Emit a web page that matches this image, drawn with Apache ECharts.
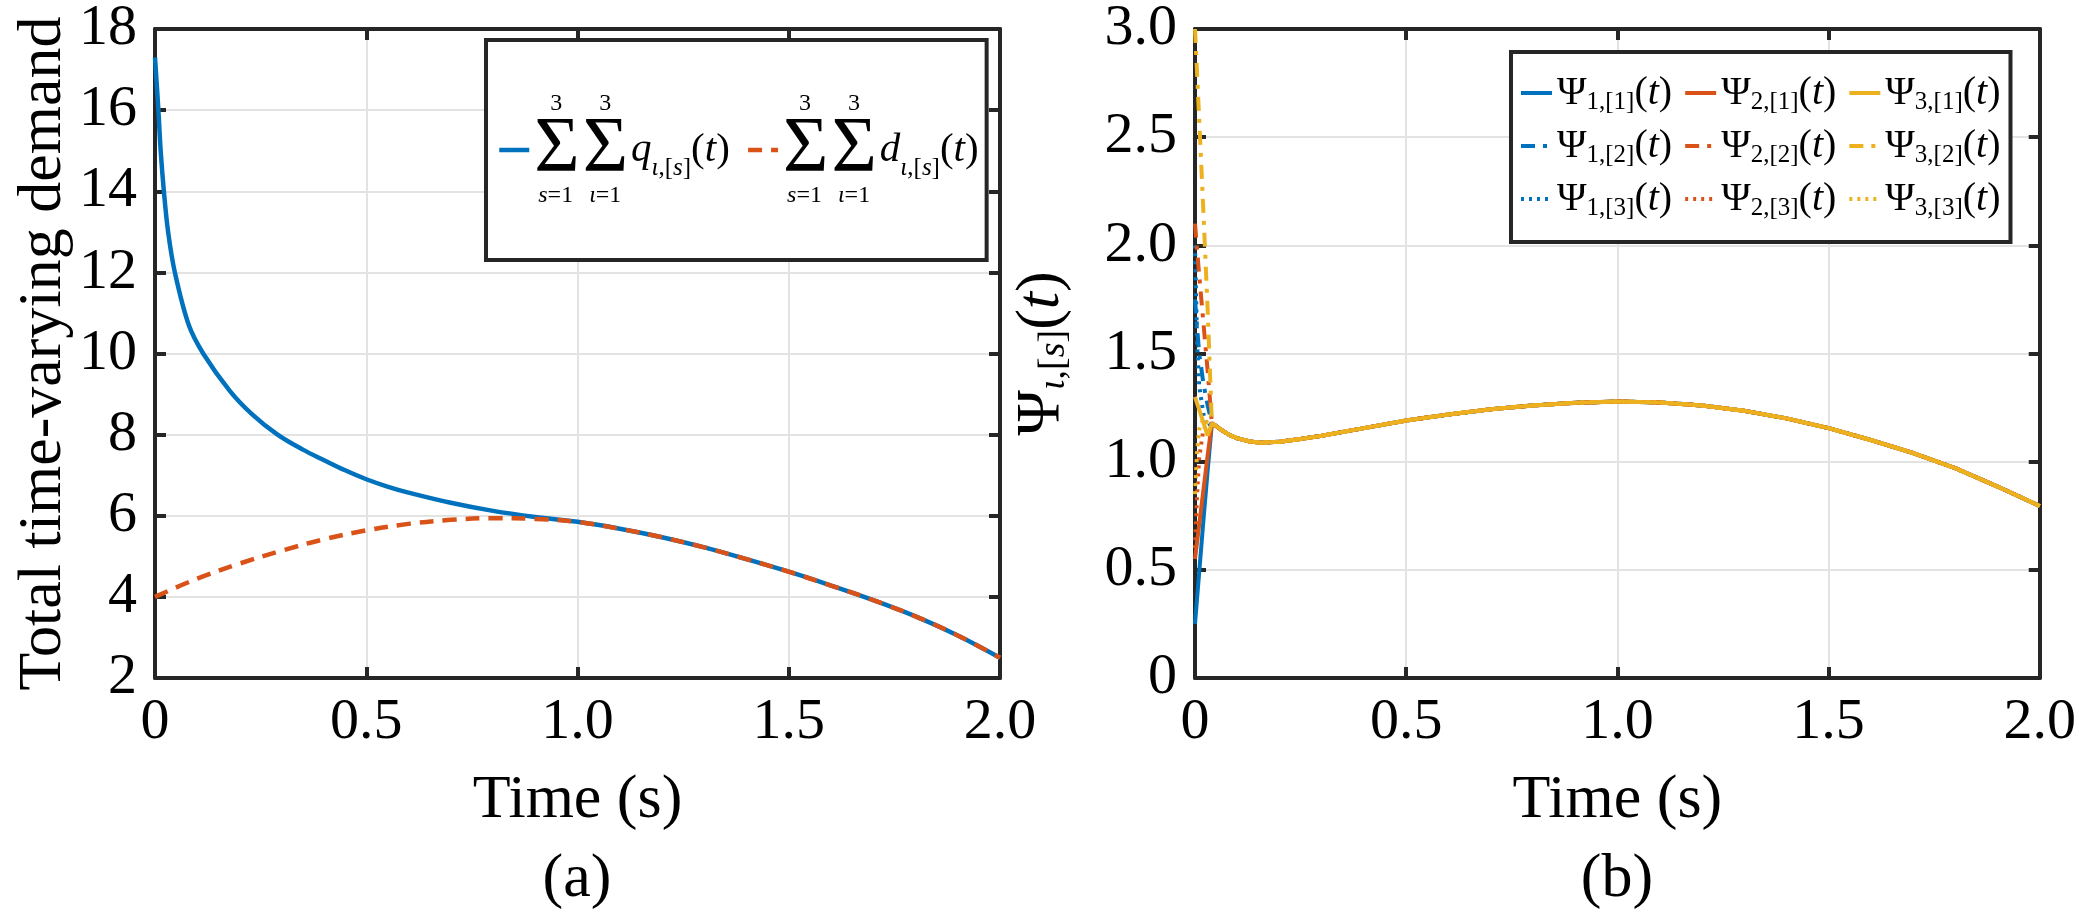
<!DOCTYPE html>
<html>
<head>
<meta charset="utf-8">
<title>Total time-varying demand and Psi</title>
<script src="https://cdn.jsdelivr.net/npm/echarts@6.0.0/dist/echarts.min.js"></script>
<style>
	html, body { margin: 0; padding: 0; background: #fff; }
	#chart { width: 2079px; height: 918px; }
</style>
</head>
<body>
<div id="chart"></div>
<script>
// ---- panel (a): total demand ----
var tA = [0, 0.008, 0.0134, 0.021, 0.031, 0.047, 0.08, 0.114, 0.177, 0.23, 0.29, 0.35, 0.4, 0.45, 0.5, 0.55, 0.6,
	0.7, 0.8, 0.9, 1.0, 1.1, 1.2, 1.3, 1.4, 1.5, 1.6, 1.7, 1.8, 1.9, 2.0];
var qSum = [17.3, 16.0, 15.0, 14.0, 13.0, 12.0, 10.7, 10.0, 9.08, 8.5, 8.0, 7.63, 7.37, 7.12, 6.9, 6.72, 6.57,
	6.32, 6.12, 5.97, 5.85, 5.68, 5.47, 5.22, 4.93, 4.62, 4.28, 3.92, 3.52, 3.05, 2.5];
var tD = [0, 0.1, 0.2, 0.3, 0.4, 0.5, 0.6, 0.7, 0.8, 0.9, 1.0, 1.1, 1.2, 1.3, 1.4, 1.5, 1.6, 1.7, 1.8, 1.9, 2.0];
var dSum = [4.0, 4.45, 4.82, 5.14, 5.42, 5.64, 5.80, 5.90, 5.94, 5.92, 5.85, 5.68, 5.47, 5.22, 4.93, 4.62, 4.28,
	3.92, 3.52, 3.05, 2.5];

// ---- panel (b): Psi_{i,[s]}(t) ----
var tEarly = [0, 0.005, 0.01, 0.02, 0.03];
var psi11Early = [0.25, 0.37, 0.49, 0.73, 0.96];
var psi21Early = [0.55, 0.63, 0.71, 0.87, 1.03];
var psi31Early = [1.30, 1.27, 1.24, 1.18, 1.12];
var psi12Early = [1.75, 1.62, 1.50, 1.36, 1.26];
var psi22Early = [2.10, 1.98, 1.86, 1.64, 1.42];
var psi32Early = [3.00, 2.79, 2.58, 2.15, 1.70];
var psi13Early = [2.00, 1.55, 1.35, 1.22, 1.16];
var psi23Early = [0.60, 0.85, 1.02, 1.15, 1.17];
var psi33Early = [0.85, 1.05, 1.15, 1.20, 1.18];
var tLate = [0.04, 0.05, 0.06, 0.08, 0.1, 0.13, 0.154, 0.2, 0.25, 0.3, 0.4, 0.5, 0.6, 0.7, 0.8, 0.9, 1.0,
	1.1, 1.2, 1.3, 1.4, 1.5, 1.6, 1.7, 1.8, 1.9, 2.0];
var psiLate = [1.177, 1.165, 1.15, 1.125, 1.108, 1.093, 1.088, 1.092, 1.105, 1.12, 1.155, 1.19, 1.218, 1.242,
	1.26, 1.272, 1.278, 1.274, 1.26, 1.235, 1.2, 1.155, 1.1, 1.04, 0.97, 0.885, 0.795];

var xTicks = ['0', '0.5', '1.0', '1.5', '2.0'];
var yTicksB = ['0', '0.5', '1.0', '1.5', '2.0', '2.5', '3.0'];

var BLUE = '#0072BD', ORANGE = '#D95319', YELLOW = '#EDB120';
var INK = '#262626';
var FONT = 'Liberation Serif';

function pairs(ts, vs) {
	return ts.map(function (t, i) { return [t, vs[i]]; });
}

var psiEarly = {
	'11': psi11Early, '21': psi21Early, '31': psi31Early,
	'12': psi12Early, '22': psi22Early, '32': psi32Early,
	'13': psi13Early, '23': psi23Early, '33': psi33Early
};
var colors = {'1': BLUE, '2': ORANGE, '3': YELLOW};
var dashes = {'1': 'solid', '2': [14, 8, 4, 8], '3': [3, 5]};

function rs(size, lh, extra) {
	return Object.assign({fontFamily: FONT, fontSize: size, color: '#000', lineHeight: lh, align: 'left'}, extra || {});
}

function tickLabel(margin, fmt) {
	return {
		margin: margin, color: '#000', fontFamily: FONT, fontSize: 58,
		formatter: function (v) { return fmt(v); }
	};
}

function mainX(grid) {
	return {
		type: 'value', gridIndex: grid, min: 0, max: 2, interval: 0.5,
		axisLine: {onZero: false, lineStyle: {color: INK, width: 4}},
		axisTick: {inside: true, length: 11, lineStyle: {color: INK, width: 4}},
		axisLabel: tickLabel(16, function (v) { return xTicks[Math.round(v / 0.5)]; }),
		splitLine: {show: true, lineStyle: {color: '#e3e3e3', width: 2}},
		name: 'Time (s)', nameLocation: 'middle', nameGap: 92,
		nameTextStyle: {color: '#000', fontFamily: FONT, fontSize: 62}
	};
}
function mirrorX(grid) {
	return {
		type: 'value', gridIndex: grid, position: 'top', min: 0, max: 2, interval: 0.5,
		axisLine: {onZero: false, lineStyle: {color: INK, width: 4}},
		axisTick: {inside: true, length: 11, lineStyle: {color: INK, width: 4}},
		axisLabel: {show: false}, splitLine: {show: false}
	};
}
function mirrorY(grid, min, max, step) {
	return {
		type: 'value', gridIndex: grid, position: 'right', min: min, max: max, interval: step,
		axisLine: {show: true, onZero: false, lineStyle: {color: INK, width: 4}},
		axisTick: {show: true, inside: true, length: 11, lineStyle: {color: INK, width: 4}},
		axisLabel: {show: false}, splitLine: {show: false}
	};
}

var series = [
	{
		name: 'q', type: 'line', xAxisIndex: 0, yAxisIndex: 0, data: pairs(tA, qSum),
		showSymbol: false, symbol: 'none', smooth: 0.35,
		lineStyle: {color: BLUE, width: 4.5}, itemStyle: {color: BLUE}
	},
	{
		name: 'd', type: 'line', xAxisIndex: 0, yAxisIndex: 0, data: pairs(tD, dSum),
		showSymbol: false, symbol: 'none', smooth: 0.35,
		lineStyle: {color: ORANGE, width: 4.5, type: [14, 9]}, itemStyle: {color: ORANGE}
	}
];

// draw order: i then s, so the yellow lines end up on top
['1', '2', '3'].forEach(function (i) {
	['1', '2', '3'].forEach(function (s) {
		var key = i + s;
		series.push({
			name: 'p' + key, type: 'line', xAxisIndex: 2, yAxisIndex: 2,
			data: pairs(tEarly, psiEarly[key]).concat(pairs(tLate, psiLate)),
			showSymbol: false, symbol: 'none',
			lineStyle: {color: colors[i], width: 4, type: dashes[s]},
			itemStyle: {color: colors[i]}
		});
	});
});

// legend (a): stacked sum limits, laid out with left-aligned tokens and paddings
var sumRich = {
	g: rs(41, 62),
	it: rs(41, 62, {fontStyle: 'italic'}),
	S: rs(78, 62, {padding: [0, 3, 0, 0]}),
	si: rs(25, 34, {fontStyle: 'italic', verticalAlign: 'bottom'}),
	sn: rs(25, 34, {verticalAlign: 'bottom'}),
	c1: rs(24, 30, {padding: [0, 0, 0, 16]}),
	c2: rs(24, 30, {padding: [0, 0, 0, 37]}),
	l1: rs(24, 30, {fontStyle: 'italic', padding: [0, 0, 0, 4]}),
	l2: rs(24, 30, {fontStyle: 'italic', padding: [0, 0, 0, 16]}),
	ln: rs(24, 30)
};

var psiRich = {
	g: rs(40, 44),
	it: rs(40, 44, {fontStyle: 'italic'}),
	s: rs(25, 30, {verticalAlign: 'bottom'})
};

var chart = echarts.init(document.getElementById('chart'));
chart.setOption({
	animation: false,
	backgroundColor: '#fff',
	textStyle: {fontFamily: FONT, color: '#000'},
	grid: [
		{left: 155, top: 29, width: 845, height: 649},
		{left: 1195, top: 29, width: 845, height: 649}
	],
	xAxis: [mainX(0), mirrorX(0), mainX(1), mirrorX(1)],
	yAxis: [
		{
			type: 'value', gridIndex: 0, min: 2, max: 18, interval: 2,
			axisLine: {show: true, onZero: false, lineStyle: {color: INK, width: 4}},
			axisTick: {show: true, inside: true, length: 11, lineStyle: {color: INK, width: 4}},
			axisLabel: tickLabel(18, function (v) { return String(v); }),
			splitLine: {show: true, lineStyle: {color: '#e3e3e3', width: 2}},
			name: 'Total time-varying demand', nameLocation: 'middle', nameGap: 76,
			nameTextStyle: {color: '#000', fontFamily: FONT, fontSize: 62}
		},
		mirrorY(0, 2, 18, 2),
		{
			type: 'value', gridIndex: 1, min: 0, max: 3, interval: 0.5,
			axisLine: {show: true, onZero: false, lineStyle: {color: INK, width: 4}},
			axisTick: {show: true, inside: true, length: 11, lineStyle: {color: INK, width: 4}},
			axisLabel: tickLabel(18, function (v) { return yTicksB[Math.round(v / 0.5)]; }),
			splitLine: {show: true, lineStyle: {color: '#e3e3e3', width: 2}},
			name: '{g|Ψ}{si|ι}{sn|,[}{si|s}{sn|]}{g|(}{it|t}{g|)}', nameLocation: 'middle', nameGap: 122,
			nameTextStyle: {
				rich: {
					g: rs(62, 62),
					it: rs(62, 62, {fontStyle: 'italic'}),
					si: rs(38, 44, {fontStyle: 'italic', verticalAlign: 'bottom'}),
					sn: rs(38, 44, {verticalAlign: 'bottom'})
				}
			}
		},
		mirrorY(1, 0, 3, 0.5)
	],
	legend: [
		{
			data: ['q', 'd'], left: 486, top: 40, orient: 'horizontal',
			itemWidth: 30, itemHeight: 14, itemGap: 16,
			padding: [52, 8, 52, 11],
			backgroundColor: '#fff', borderColor: INK, borderWidth: 4,
			itemStyle: {opacity: 0}, lineStyle: {width: 4.5},
			selectedMode: false,
			formatter: function (name) {
				return '{c1|3}{c2|3}\n{S|Σ}{S|Σ}{it|' + name + '}{si|ι}{sn|,[}{si|s}{sn|]}{g|(}{it|t}{g|)}\n' +
					'{l1|s}{ln|=1}{l2|ι}{ln|=1}';
			},
			textStyle: {rich: sumRich}
		},
		{
			data: ['p11', 'p21', 'p31', 'p12', 'p22', 'p32', 'p13', 'p23', 'p33'],
			left: 1511, top: 52, orient: 'horizontal', width: 510,
			itemWidth: 31, itemHeight: 14, itemGap: 11,
			padding: [21, 10, 21, 8],
			backgroundColor: '#fff', borderColor: INK, borderWidth: 4,
			itemStyle: {opacity: 0}, lineStyle: {width: 4},
			selectedMode: false,
			formatter: function (name) {
				return '{g|Ψ}{s|' + name.charAt(1) + ',[' + name.charAt(2) + ']}{g|(}{it|t}{g|)}';
			},
			textStyle: {rich: psiRich}
		}
	],
	graphic: [
		{type: 'text', x: 577, y: 880, style: {text: '(a)', font: '62px "Liberation Serif"', fill: '#000',
			align: 'center', verticalAlign: 'middle', textAlign: 'center', textVerticalAlign: 'middle'}},
		{type: 'text', x: 1617, y: 880, style: {text: '(b)', font: '62px "Liberation Serif"', fill: '#000',
			align: 'center', verticalAlign: 'middle', textAlign: 'center', textVerticalAlign: 'middle'}}
	],
	series: series
});
</script>
</body>
</html>
